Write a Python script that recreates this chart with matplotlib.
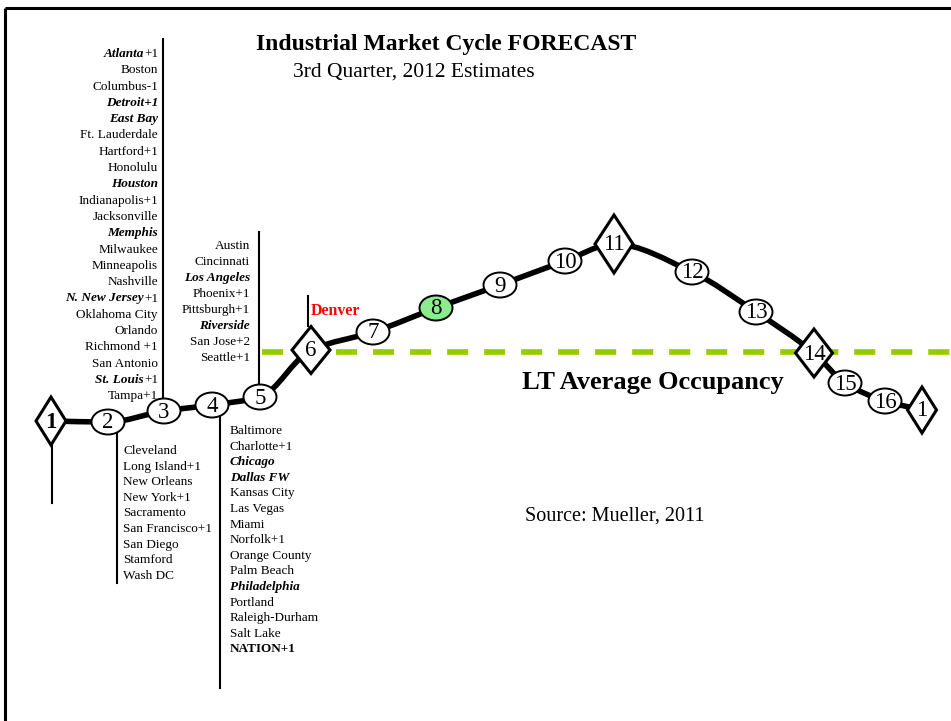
import re
import matplotlib
matplotlib.use("Agg")
import matplotlib.pyplot as plt
from matplotlib.path import Path
from matplotlib.patches import PathPatch, Ellipse, Polygon
from matplotlib.lines import Line2D

# ── Data (positions on the cycle) ─────────────────────────────────────────────
stage_labels = ["1", "2", "3", "4", "5", "6", "7", "8", "9", "10",
                "11", "12", "13", "14", "15", "16", "1"]
stage_x = [51, 108, 164, 212, 260, 311, 373, 436, 500, 565,
           614, 692, 756, 814, 845, 885, 922]
stage_y = [421, 422, 411, 405, 397, 350, 332, 308, 285, 261,
           244, 272, 312, 353, 383, 401, 410]
diamond_stages = [0, 5, 10, 13, 16]
highlight_stage = 7
avg_occupancy_y = 352

# markup: *text* = bold italic, **text** = bold
list_above_3 = ["*Atlanta*+1", "Boston", "Columbus-1", "*Detroit+1*", "*East Bay*",
                "Ft. Lauderdale", "Hartford+1", "Honolulu", "*Houston*",
                "Indianapolis+1", "Jacksonville", "*Memphis*", "Milwaukee",
                "Minneapolis", "Nashville", "*N. New Jersey*+1", "Oklahoma City",
                "Orlando", "Richmond +1", "San Antonio", "*St. Louis*+1", "Tampa+1"]
list_above_5 = ["Austin", "Cincinnati", "*Los Angeles*", "Phoenix+1",
                "Pittsburgh+1", "*Riverside*", "San Jose+2", "Seattle+1"]
list_below_2 = ["Cleveland", "Long Island+1", "New Orleans", "New York+1",
                "Sacramento", "San Francisco+1", "San Diego", "Stamford", "Wash DC"]
list_below_4 = ["Baltimore", "Charlotte+1", "*Chicago*", "*Dallas FW*",
                "Kansas City", "Las Vegas", "Miami", "Norfolk+1", "Orange County",
                "Palm Beach", "*Philadelphia*", "Portland", "Raleigh-Durham",
                "Salt Lake", "**NATION+1**"]

SERIF = "Liberation Serif"
W, H = 951, 721

fig = plt.figure(figsize=(W / 100, H / 100), dpi=100)
ax = fig.add_axes([0, 0, 1, 1])
ax.set_xlim(0, W)
ax.set_ylim(H, 0)
ax.axis("off")
renderer = fig.canvas.get_renderer()

# frame (top + left edges only visible)
ax.add_line(Line2D([5, W + 10], [8, 8], color="black", lw=2.2, solid_capstyle="butt"))
ax.add_line(Line2D([5, 5], [8, H + 10], color="black", lw=2.2, solid_capstyle="butt"))

# ── Text ──────────────────────────────────────────────────────────────────────
ax.text(256, 50, "Industrial Market Cycle FORECAST", family=SERIF, fontsize=17,
        fontweight="bold", ha="left", va="baseline")
ax.text(293, 77, "3rd Quarter, 2012 Estimates", family=SERIF, fontsize=15.5,
        ha="left", va="baseline")
ax.text(522, 389, "LT Average Occupancy", family=SERIF, fontsize=19,
        fontweight="bold", ha="left", va="baseline")
ax.text(525, 521, "Source: Mueller, 2011", family=SERIF, fontsize=14.5,
        ha="left", va="baseline")
ax.text(311, 315, "Denver", family=SERIF, fontsize=11.4, fontweight="bold",
        color="#FF0000", ha="left", va="baseline")


def parse(s):
    parts = []
    for tok in re.split(r"(\*\*[^*]+\*\*|\*[^*]+\*)", s):
        if not tok:
            continue
        if tok.startswith("**"):
            parts.append((tok[2:-2], "bold", "normal"))
        elif tok.startswith("*"):
            parts.append((tok[1:-1], "bold", "italic"))
        else:
            parts.append((tok, "normal", "normal"))
    return parts


def draw_list(items, x, y0, step, align, fs=9.5):
    for i, s in enumerate(items):
        y = y0 + i * step + 4
        parts = parse(s)
        cx = x
        seq = parts[::-1] if align == "right" else parts
        for txt, wt, st in seq:
            t = ax.text(cx, y, txt, family=SERIF, fontsize=fs, fontweight=wt,
                        fontstyle=st, ha=align, va="baseline")
            w = t.get_window_extent(renderer).width
            cx = cx - w if align == "right" else cx + w


draw_list(list_above_3, 158, 53, 16.3, "right")
draw_list(list_above_5, 250, 245, 16.0, "right")
draw_list(list_below_2, 123, 450, 15.6, "left")
draw_list(list_below_4, 230, 430, 15.6, "left")

# ── Leader lines ──────────────────────────────────────────────────────────────
for xs, ys in [([52, 52], [445, 503]),
               ([163, 163], [39, 399]),
               ([117, 117], [432, 583]),
               ([220, 220], [417, 688]),
               ([259, 259], [232, 384]),
               ([308, 308], [296, 326])]:
    ax.add_line(Line2D(xs, ys, color="black", lw=1.5, zorder=2))

# LT average occupancy line
ax.add_line(Line2D([262, W], [avg_occupancy_y, avg_occupancy_y], color="#99CC00",
                   lw=4.1, dashes=(3.7, 2.8), zorder=1))

# ── Cycle curve: monotone cubic (Fritsch-Carlson) through stage positions ─────
n = len(stage_x)
h = [stage_x[i + 1] - stage_x[i] for i in range(n - 1)]
d = [(stage_y[i + 1] - stage_y[i]) / h[i] for i in range(n - 1)]
m = [d[0]] + [0.0] * (n - 2) + [d[-1]]
for i in range(1, n - 1):
    if d[i - 1] * d[i] > 0:
        w1, w2 = 2 * h[i] + h[i - 1], h[i] + 2 * h[i - 1]
        m[i] = (w1 + w2) / (w1 / d[i - 1] + w2 / d[i])
verts = [(stage_x[0], stage_y[0])]
codes = [Path.MOVETO]
for i in range(n - 1):
    verts += [(stage_x[i] + h[i] / 3, stage_y[i] + m[i] * h[i] / 3),
              (stage_x[i + 1] - h[i] / 3, stage_y[i + 1] - m[i + 1] * h[i] / 3),
              (stage_x[i + 1], stage_y[i + 1])]
    codes += [Path.CURVE4] * 3
ax.add_patch(PathPatch(Path(verts, codes), facecolor="none", edgecolor="black",
                       lw=4.0, zorder=3))

# ── Stage markers ─────────────────────────────────────────────────────────────
diamond_size = {0: (30, 48), 5: (38, 47), 10: (38, 58), 13: (37, 48), 16: (29, 46)}
for i, (x, y, lab) in enumerate(zip(stage_x, stage_y, stage_labels)):
    if i in diamond_stages:
        dw, dh = diamond_size[i]
        ax.add_patch(Polygon([(x - dw / 2, y), (x, y - dh / 2), (x + dw / 2, y),
                              (x, y + dh / 2)], closed=True, facecolor="white",
                             edgecolor="black", lw=2.2, zorder=4))
    else:
        fc = "#8CEB8C" if i == highlight_stage else "white"
        ax.add_patch(Ellipse((x, y), 33, 25, facecolor=fc, edgecolor="black",
                             lw=1.4, zorder=4))
    ax.text(x, y + 1, lab, family=SERIF, fontsize=16.5, ha="center", va="center",
            fontweight="bold" if i == 0 else "normal", zorder=5)

fig.savefig("out.png", dpi=100)
